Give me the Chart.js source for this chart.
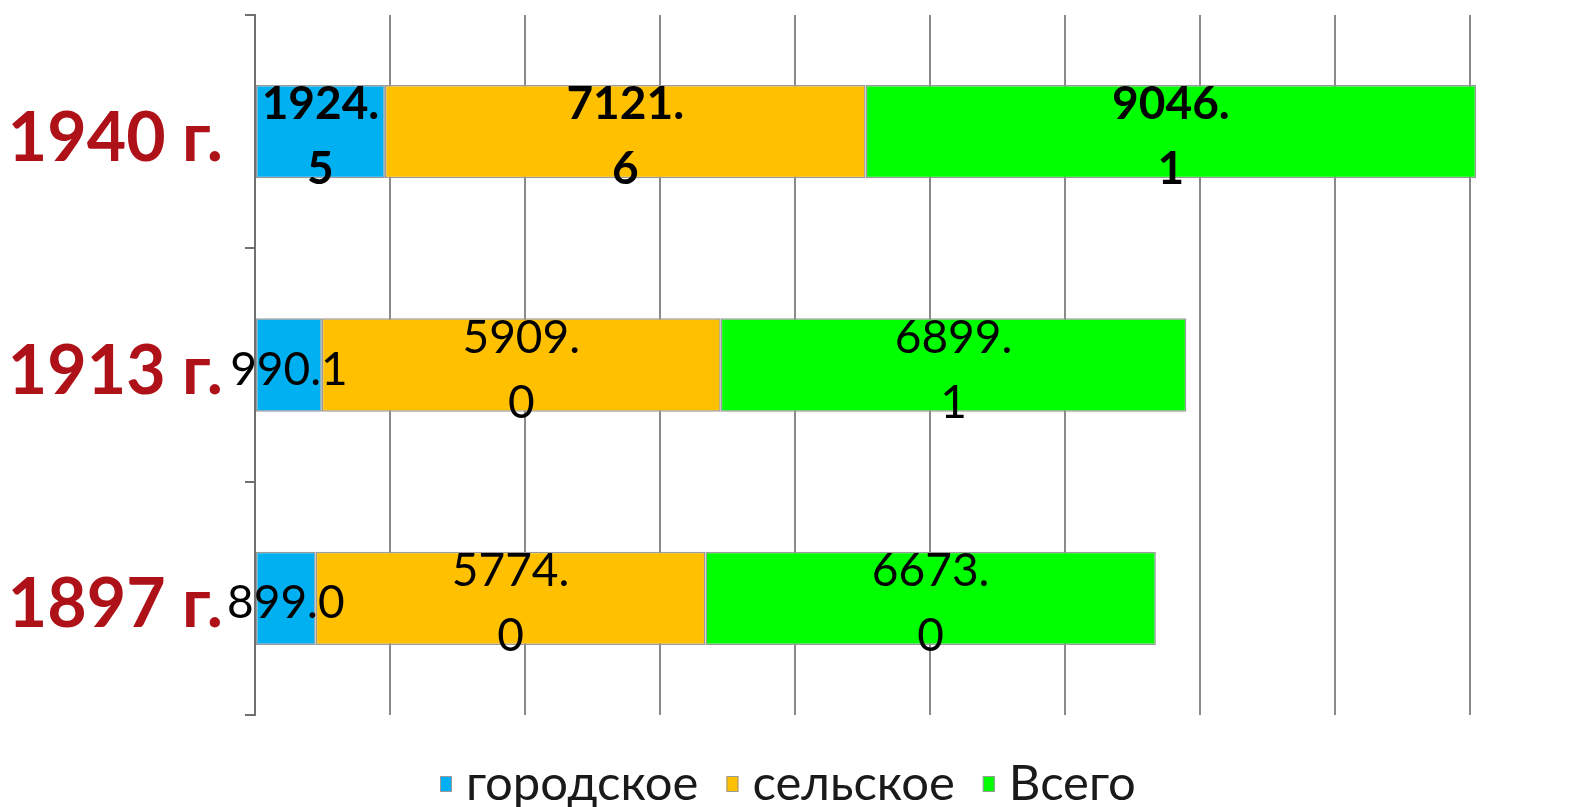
<!DOCTYPE html>
<html>
<head>
<meta charset="utf-8">
<script src="https://cdn.jsdelivr.net/npm/chart.js@4.4.0/dist/chart.umd.min.js"></script>
<style>
  html, body { margin: 0; padding: 0; background: #fff; }
  #wrap { width: 1596px; height: 807px; }
</style>
</head>
<body>
<div id="wrap"><canvas id="popChart" width="1596" height="807"></canvas></div>
<script>
// population by year (thousands)
const years = ["1940 г.", "1913 г.", "1897 г."];
const urban = [1924.5, 990.1, 899.0];
const rural = [7121.6, 5909.0, 5774.0];
const total = [9046.1, 6899.1, 6673.0];
const seriesNames = ["городское", "сельское", "Всего"];
const xTicks = [0, 2000, 4000, 6000, 8000, 10000, 12000, 14000, 16000, 18000];

const colors = ["#00B0F0", "#FFC000", "#00FF00"];

// excel-ish data labels, wrapped after the dot when the number is long
const barLabels = {
    id: "barLabels",
    afterDatasetsDraw(chart) {
        const ctx = chart.ctx;
        ctx.save();
        ctx.fillStyle = "#000";
        ctx.textAlign = "center";
        ctx.textBaseline = "middle";
        chart.data.datasets.forEach((ds, di) => {
            const meta = chart.getDatasetMeta(di);
            meta.data.forEach((bar, i) => {
                const v = ds.data[i];
                const txt = v.toFixed(1);
                const cx = (bar.x + bar.base) / 2;
                const cy = bar.y;
                ctx.font = (i === 0 ? "bold " : "") + "46px Lato";
                if (v >= 1000) {
                    const p = txt.indexOf(".") + 1;
                    ctx.fillText(txt.slice(0, p), cx, cy - 27);
                    ctx.fillText(txt.slice(p), cx, cy + 38);
                } else {
                    ctx.fillText(txt, cx, cy + 5);
                }
            });
        });
        ctx.restore();
    }
};

// legend drawn by hand so the spacing can follow the excel one
const bottomLegend = {
    id: "bottomLegend",
    afterDraw(chart) {
        const ctx = chart.ctx;
        ctx.save();
        ctx.font = "49px Lato";
        ctx.textBaseline = "alphabetic";
        const boxW = 12, gap = 14, itemGap = 28;
        let x = 440;
        chart.data.datasets.forEach((d) => {
            const w = ctx.measureText(d.label).width;
            ctx.fillStyle = d.backgroundColor;
            ctx.fillRect(x, 776, boxW, 16);
            ctx.strokeStyle = "#9a9a9a";
            ctx.lineWidth = 1;
            ctx.strokeRect(x + 0.5, 776.5, boxW - 1, 15);
            ctx.fillStyle = "#1a1a1a";
            ctx.fillText(d.label, x + boxW + gap, 800);
            x += boxW + gap + w + itemGap;
        });
        ctx.restore();
    }
};

new Chart(document.getElementById("popChart"), {
    type: "bar",
    data: {
        labels: years,
        datasets: [
            { label: seriesNames[0], data: urban, backgroundColor: colors[0] },
            { label: seriesNames[1], data: rural, backgroundColor: colors[1] },
            { label: seriesNames[2], data: total, backgroundColor: colors[2] },
        ].map((d) => Object.assign(d, {
            borderColor: "#9a9a9a", borderWidth: 1.5, borderSkipped: false,
            categoryPercentage: 0.4, barPercentage: 1.0, clip: false,
        })),
    },
    options: {
        indexAxis: "y",
        responsive: false,
        animation: false,
        layout: { padding: { top: 15, right: 126, left: 0, bottom: 92 } },
        scales: {
            x: {
                stacked: true,
                min: 0,
                max: 18000,
                afterBuildTicks: (s) => { s.ticks = xTicks.map((v) => ({ value: v })); },
                afterFit: (s) => { s.height = 0; s.paddingLeft = 0; s.paddingRight = 0; },
                ticks: { display: false },
                border: { display: false },
                grid: { color: "#8a8a8a", lineWidth: 2, drawTicks: false },
            },
            y: {
                stacked: true,
                afterFit: (s) => { s.width = 255; s.paddingTop = 0; s.paddingBottom = 0; },
                ticks: {
                    color: "#AE1218",
                    font: { family: "Lato", weight: "bold", size: 68 },
                    padding: 22,
                    labelOffset: 7,
                },
                border: { display: true, color: "#707070", width: 2 },
                grid: { offset: true, drawOnChartArea: false, drawTicks: true, tickLength: 10, color: "#707070", lineWidth: 2 },
            },
        },
        plugins: {
            legend: { display: false },
            tooltip: { enabled: false },
        },
    },
    plugins: [barLabels, bottomLegend],
});
</script>
</body>
</html>
